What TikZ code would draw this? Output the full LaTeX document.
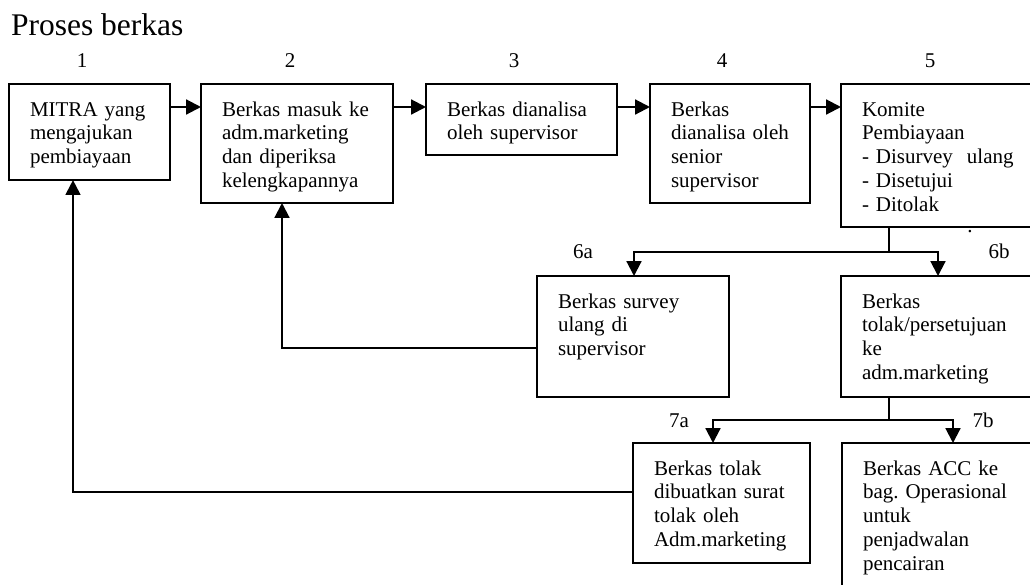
\documentclass[tikz,border=0pt]{standalone}
\usepackage{fontspec}
\setmainfont{Liberation Serif}
\usepackage{tikz}
\usetikzlibrary{arrows.meta}
\frenchspacing

\begin{document}
\begin{tikzpicture}[x=0.5714pt,y=-0.5714pt,line width=1.2pt,
                    box node/.style={draw,anchor=north west,align=left,outer sep=0pt,
                      inner xsep=12pt,inner ysep=0pt,text height=18.3pt,
                      font=\fontsize{12}{13.6}\selectfont},
                    num node/.style={anchor=base,inner sep=0pt,font=\fontsize{12}{14}\selectfont},
                    flow/.style={-{Triangle[length=8.5pt,width=8.5pt]}}]

  \useasboundingbox (0,0) rectangle (1030,584);
  \clip (0,0) rectangle (1030,584);

  \node[anchor=base west,inner sep=0pt,font=\fontsize{18}{20}\selectfont] (title) at (10,35) {Proses berkas};

  % boxes
  \node[box node,text width=68pt,text depth=36.6pt] (1) at (9,84)
    {MITRA yang\\ mengajukan\\ pembiayaan};
  \node[box node,text width=85.7pt,text depth=49.7pt] (2) at (201,84)
    {Berkas masuk ke\\ adm.marketing\\ dan diperiksa\\ kelengkapannya};
  \node[box node,text width=85.1pt,text depth=22.3pt] (3) at (426,84)
    {Berkas dianalisa\\ oleh supervisor};
  \node[box node,text width=67.4pt,text depth=49.7pt] (4) at (650,84)
    {Berkas\\ dianalisa oleh\\ senior\\ supervisor};
  \node[box node,text width=86.9pt,text depth=63.4pt] (5) at (841,84)
    {Komite\\ Pembiayaan\\ - Disurvey\ \ ulang\\ - Disetujui\\ - Ditolak};
  \node[box node,text width=85.7pt,text depth=50.8pt] (6a) at (537,276)
    {Berkas survey\\ ulang di\\ supervisor};
  \node[box node,text width=86.9pt,text depth=50.8pt] (6b) at (841,276)
    {Berkas\\ tolak/persetujuan\\ ke\\ adm.marketing};
  \node[box node,text width=77.1pt,text depth=50.3pt] (7a) at (633,443)
    {Berkas tolak\\ dibuatkan surat\\ tolak oleh\\ Adm.marketing};
  \node[box node,text width=102.9pt,text depth=73.1pt] (7b) at (842,443)
    {Berkas ACC ke\\ bag. Operasional\\ untuk\\ penjadwalan\\ pencairan};

  % step numbers
  \node[num node] (n1) at (82,67) {1};
  \node[num node] (n2) at (290,67) {2};
  \node[num node] (n3) at (514,67) {3};
  \node[num node] (n4) at (722,67) {4};
  \node[num node] (n5) at (930,67) {5};
  \node[num node] (n6a) at (583,258) {6a};
  \node[num node] (n6b) at (999,258) {6b};
  \node[num node] (n7a) at (679,427) {7a};
  \node[num node] (n7b) at (983,427) {7b};
  \node[num node] (dot) at (970,232) {.};

  \coordinate (split6) at (889,252);
  \coordinate (split7) at (889,420);

  \path[flow]
    (1.east |- 0,107) edge (2.west |- 0,107)
    (2.east |- 0,107) edge (3.west |- 0,107)
    (3.east |- 0,107) edge (4.west |- 0,107)
    (4.east |- 0,107) edge (5.west |- 0,107);

  \draw (5.south -| split6) -- (split6);
  \draw[flow] (split6) -| (634,0 |- 6a.north);
  \draw[flow] (split6) -| (938,0 |- 6b.north);

  \draw (6b.south -| split7) -- (split7);
  \draw[flow] (split7) -| (713,0 |- 7a.north);
  \draw[flow] (split7) -| (953,0 |- 7b.north);

  \draw[flow] (6a.west |- 0,348) -| (282,0 |- 2.south);
  \draw[flow] (7a.west |- 0,492) -| (73,0 |- 1.south);
\end{tikzpicture}
\end{document}
